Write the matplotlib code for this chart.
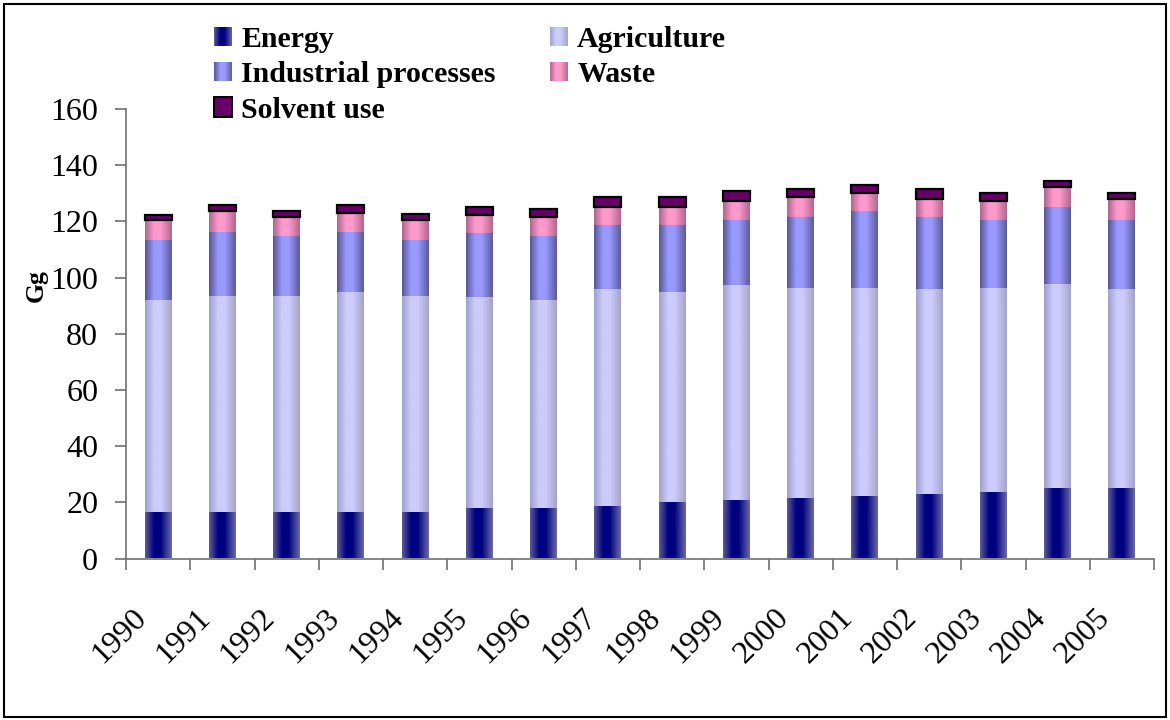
import numpy as np
import matplotlib
matplotlib.use("Agg")
import matplotlib.pyplot as plt
from matplotlib.patches import Rectangle
from matplotlib.legend_handler import HandlerBase
from matplotlib.colors import to_rgb
from matplotlib.transforms import ScaledTranslation

# Emissions by sector (Gg)
years = [str(y) for y in range(1990, 2006)]
energy = [16.5, 16.5, 16.5, 16.5, 16.5, 18.0, 18.0, 18.7, 20.1, 20.8, 21.5, 22.2, 22.9, 23.6, 25.1, 25.1]
agriculture = [75.4, 76.8, 76.8, 78.3, 76.8, 75.1, 73.9, 77.1, 74.7, 76.4, 74.7, 74.0, 72.9, 72.6, 72.5, 70.7]
industrial = [21.3, 22.8, 21.4, 21.3, 19.9, 22.7, 22.8, 22.8, 23.8, 23.2, 25.2, 27.4, 25.6, 24.2, 27.4, 24.6]
waste = [7.2, 7.6, 7.0, 7.0, 7.2, 6.6, 7.0, 6.6, 6.6, 7.0, 7.4, 6.6, 6.7, 7.0, 7.3, 7.7]
solvent = [1.7, 2.0, 1.9, 2.6, 2.4, 2.6, 2.6, 3.3, 3.3, 3.3, 2.6, 2.6, 3.3, 2.6, 1.9, 1.9]

series_names = ["Energy", "Agriculture", "Industrial processes", "Waste", "Solvent use"]
yticks = [0, 20, 40, 60, 80, 100, 120, 140, 160]

# (left edge, centre, right edge) colours of the shaded fills
shades = {
    "Energy": ("#5a5a9a", "#000080", "#6a6aa6"),
    "Agriculture": ("#a0a0cc", "#ccccff", "#a4a4c8"),
    "Industrial processes": ("#565696", "#9999ff", "#5c5c98"),
    "Waste": ("#ae6690", "#ff99cc", "#b0688e"),
}
solvent_color = "#660066"

SERIF = ["Liberation Serif", "DejaVu Serif"]
plt.rcParams["font.family"] = SERIF


def gradient_colors(left, centre, right, n=64, peak=0.46):
    l, c, r = (np.array(to_rgb(v)) for v in (left, centre, right))
    t = np.linspace(0, 1, n)
    out = np.zeros((n, 3))
    for i, ti in enumerate(t):
        if ti <= peak:
            w = np.clip(ti / (peak - 0.12), 0, 1)
            out[i] = l + (c - l) * w
        else:
            w = np.clip((1 - ti) / (1 - peak - 0.12), 0, 1)
            out[i] = r + (c - r) * w
    return out


fig = plt.figure(figsize=(11.7, 7.2), dpi=100)
ax = fig.add_axes([126 / 1170, 1 - 558.5 / 720, (1154 - 126) / 1170, (558.5 - 109) / 720])

x = np.arange(len(years))
width = 0.42
bottom = np.zeros(len(years))
legend_handles = []
for name, vals in zip(series_names, [energy, agriculture, industrial, waste, solvent]):
    vals = np.array(vals)
    if name == "Solvent use":
        bars = ax.bar(x, vals, width, bottom=bottom, color=solvent_color,
                      edgecolor="black", linewidth=1.6, zorder=3)
        legend_handles.append(Rectangle((0, 0), 1, 1, facecolor=solvent_color,
                                        edgecolor="black", linewidth=1.2))
    else:
        bars = ax.bar(x, vals, width, bottom=bottom, color="none",
                      edgecolor="none", zorder=2)
        cols = gradient_colors(*shades[name])
        for p in bars.patches:
            ax.imshow(cols[np.newaxis, :, :],
                      extent=(p.get_x(), p.get_x() + p.get_width(),
                              p.get_y(), p.get_y() + p.get_height()),
                      aspect="auto", interpolation="bilinear", zorder=2)
        h = Rectangle((0, 0), 1, 1, facecolor="none")
        h.grad = cols
        legend_handles.append(h)
    bottom += vals

ax.set_xlim(-0.5, len(years) - 0.5)
ax.set_ylim(0, 160)
ax.set_aspect("auto")

# axes styling
for s in ["top", "right"]:
    ax.spines[s].set_visible(False)
for s in ["left", "bottom"]:
    ax.spines[s].set_color("#707070")
    ax.spines[s].set_linewidth(1.2)

ax.set_yticks(yticks)
ax.set_yticklabels([str(v) for v in yticks], fontsize=23)
ax.tick_params(axis="y", direction="out", length=8, width=1.2, color="#707070", pad=12)

ax.set_xticks(np.arange(-0.5, len(years), 1.0))
ax.set_xticklabels([])
ax.tick_params(axis="x", which="major", direction="out", length=8, width=1.2, color="#707070")
ax.set_xticks(x, minor=True)
ax.set_xticklabels(years, minor=True, rotation=45, ha="right", va="top", fontsize=23)
ax.tick_params(axis="x", which="minor", length=0, pad=32)
shift = ScaledTranslation(-6 / 100, 0, fig.dpi_scale_trans)
for lab in ax.get_xticklabels(minor=True):
    lab.set_transform(lab.get_transform() + shift)

fig.text(36 / 1170, 1 - 286 / 720, "Gg", rotation=90, ha="center", va="center",
         fontsize=18.5, fontweight="bold")


class GradientHandler(HandlerBase):
    def create_artists(self, legend, orig_handle, xdescent, ydescent, width, height, fontsize, trans):
        if not hasattr(orig_handle, "grad"):
            r = Rectangle((-xdescent, -ydescent), width, height,
                          facecolor=orig_handle.get_facecolor(), edgecolor="black",
                          linewidth=1.4, transform=trans)
            return [r]
        cols = orig_handle.grad
        n = len(cols)
        arts = []
        for i, c in enumerate(cols):
            arts.append(Rectangle((-xdescent + i * width / n, -ydescent), width / n * 1.05, height,
                                  facecolor=c, edgecolor="none", linewidth=0, transform=trans))
        return arts


order = [0, 2, 4, 1, 3]
leg = fig.legend([legend_handles[i] for i in order], [series_names[i] for i in order],
                 loc="upper left", bbox_to_anchor=(202 / 1170, 1 - 14 / 720), ncol=2,
                 frameon=False, prop={"family": SERIF, "weight": "bold", "size": 21.5},
                 handler_map={Rectangle: GradientHandler()},
                 handlelength=0.62, handleheight=0.62, handletextpad=0.3,
                 columnspacing=1.8, labelspacing=0.28, borderaxespad=0)

# chart border
fig.patches.append(Rectangle((4 / 1170, 3 / 720), 1162 / 1170, 713 / 720, transform=fig.transFigure,
                             facecolor="none", edgecolor="black", linewidth=1.5))

fig.savefig("out.png", dpi=100)
